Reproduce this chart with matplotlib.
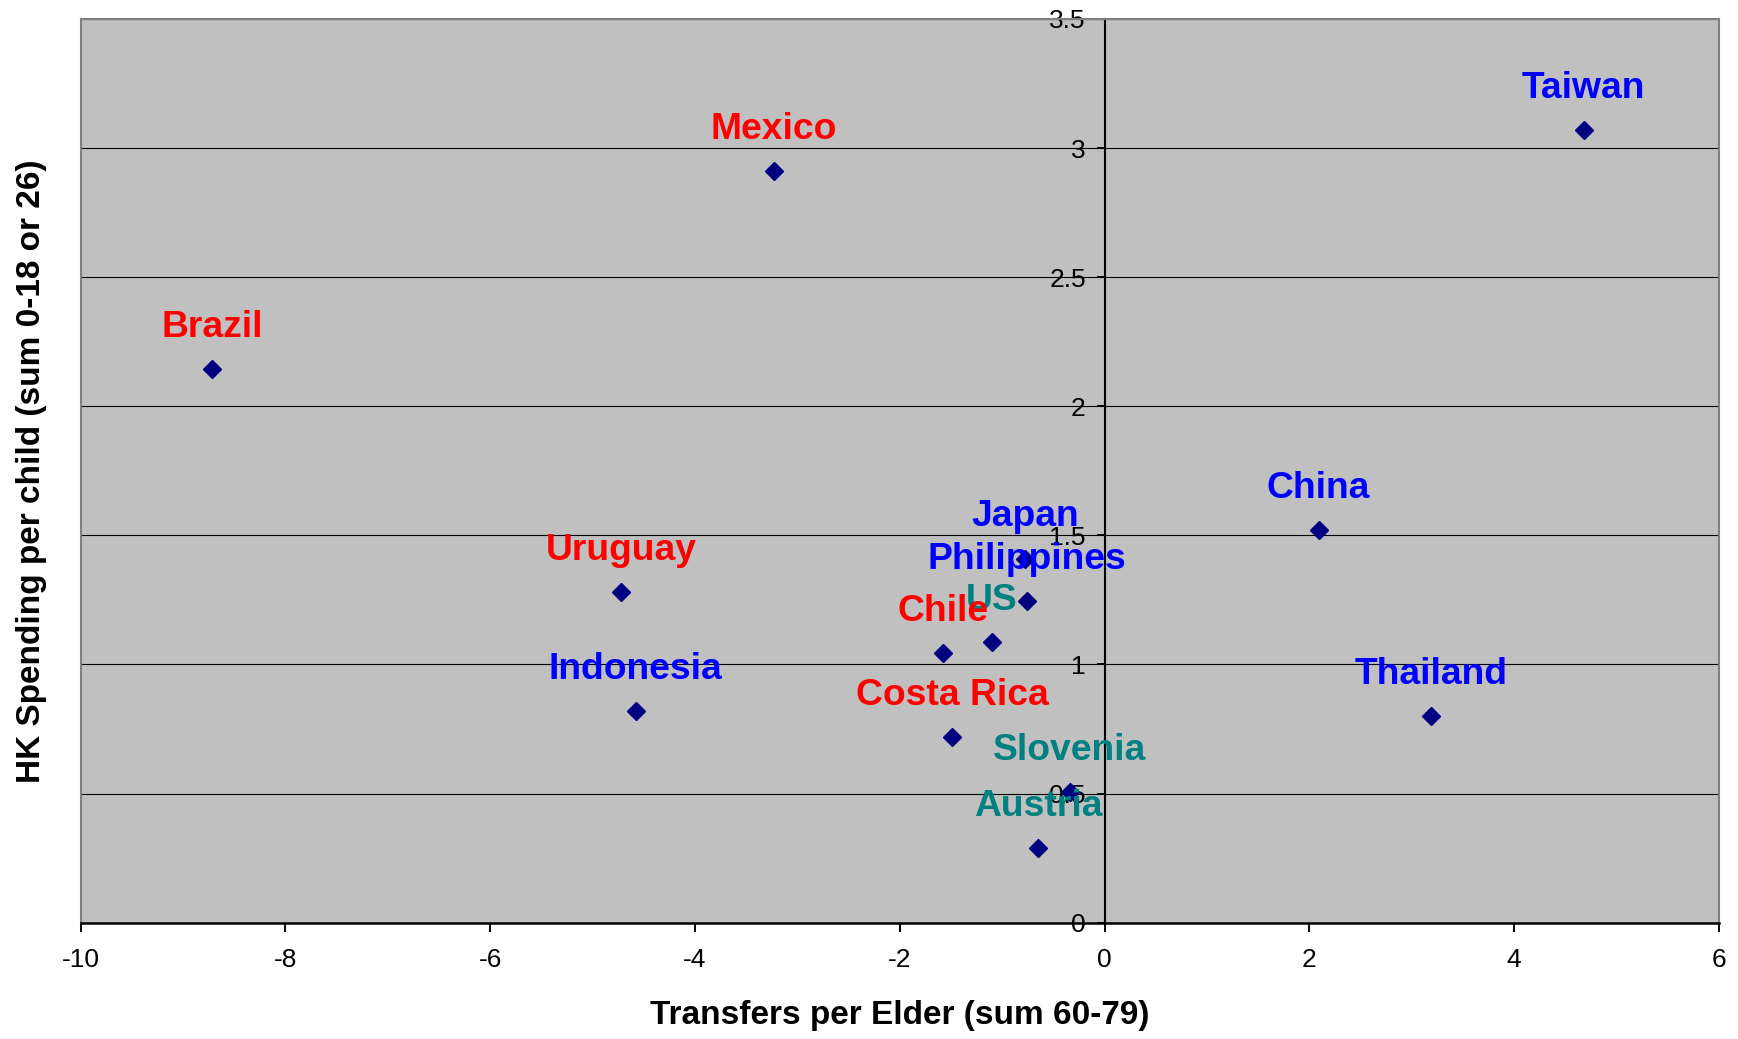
import matplotlib
matplotlib.use("Agg")
import matplotlib.pyplot as plt
from matplotlib.ticker import FuncFormatter

plt.rcParams['font.family'] = ['Liberation Sans', 'DejaVu Sans']

countries = ["Taiwan", "Mexico", "Brazil", "China", "Uruguay", "Indonesia",
             "Thailand", "Japan", "Philippines", "US", "Chile", "Costa Rica",
             "Slovenia", "Austria"]
transfers_per_elder = [4.68, -3.23, -8.72, 2.09, -4.72, -4.58,
                       3.19, -0.78, -0.76, -1.10, -1.58, -1.49,
                       -0.34, -0.65]
hk_spending_per_child = [3.07, 2.91, 2.145, 1.52, 1.28, 0.82,
                         0.80, 1.41, 1.245, 1.085, 1.045, 0.72,
                         0.505, 0.29]
groups = ["asia", "latam", "latam", "asia", "latam", "asia",
          "asia", "asia", "asia", "west", "latam", "latam",
          "west", "west"]
group_colors = {"asia": "#0000FF", "latam": "#FF0000", "west": "#008080"}

x_ticks = [-10, -8, -6, -4, -2, 0, 2, 4, 6]
y_ticks = [0, 0.5, 1, 1.5, 2, 2.5, 3, 3.5]
x_label = "Transfers per Elder (sum 60-79)"
y_label = "HK Spending per child (sum 0-18 or 26)"

W, H = 1738, 1039
fig = plt.figure(figsize=(W / 100, H / 100), dpi=100)
left, right, top, bottom = 80.7, 1718.9, 19.0, 922.6
ax = fig.add_axes([left / W, 1 - bottom / H, (right - left) / W, (bottom - top) / H])
ax.set_facecolor("#C0C0C0")
ax.set_xlim(x_ticks[0], x_ticks[-1])
ax.set_ylim(y_ticks[0], y_ticks[-1])
ax.set_xticks(x_ticks)
ax.set_yticks(y_ticks)
fmt = FuncFormatter(lambda v, p: "%g" % v)
ax.xaxis.set_major_formatter(fmt)
ax.yaxis.set_major_formatter(fmt)

ax.set_axisbelow(True)
ax.yaxis.grid(True, color="black", lw=0.8)
ax.xaxis.grid(False)

# spines
ax.spines['left'].set_position(('data', 0))
ax.spines['left'].set_color('black')
ax.spines['left'].set_linewidth(1.5)
ax.spines['bottom'].set_color('black')
ax.spines['bottom'].set_linewidth(1.8)
for s in ('top', 'right'):
    ax.spines[s].set_color('#808080')
    ax.spines[s].set_linewidth(1.5)
ax.plot([0, 0], [0, 1], transform=ax.transAxes, color='#808080', lw=1.5,
        clip_on=False, zorder=2.4)

ax.tick_params(axis='x', direction='out', length=6.5, width=1.4, pad=12,
               labelsize=19, colors='black')
ax.tick_params(axis='y', direction='out', length=5.5, width=1.4, pad=8,
               labelsize=19, colors='black')

# points
ax.plot(transfers_per_elder, hk_spending_per_child, linestyle='none',
        marker='D', markersize=9.5, color='#000080', zorder=3)

for name, xv, yv, g in zip(countries, transfers_per_elder, hk_spending_per_child, groups):
    ax.annotate(name, (xv, yv), xytext=(0, 30), textcoords='offset points',
                ha='center', va='center', fontsize=26.8, fontweight='bold',
                color=group_colors[g], zorder=4)

ax.set_xlabel(x_label, fontsize=24, fontweight='bold')
ax.xaxis.set_label_coords(0.5, -0.1122)
ax.xaxis.label.set_va('baseline')
ax.set_ylabel(y_label, fontsize=24, fontweight='bold')
ax.yaxis.set_label_coords(-0.0301, 0.5)
ax.yaxis.label.set_va('center')
ax.yaxis.label.set_ha('center')

fig.savefig("out.png", dpi=100)
